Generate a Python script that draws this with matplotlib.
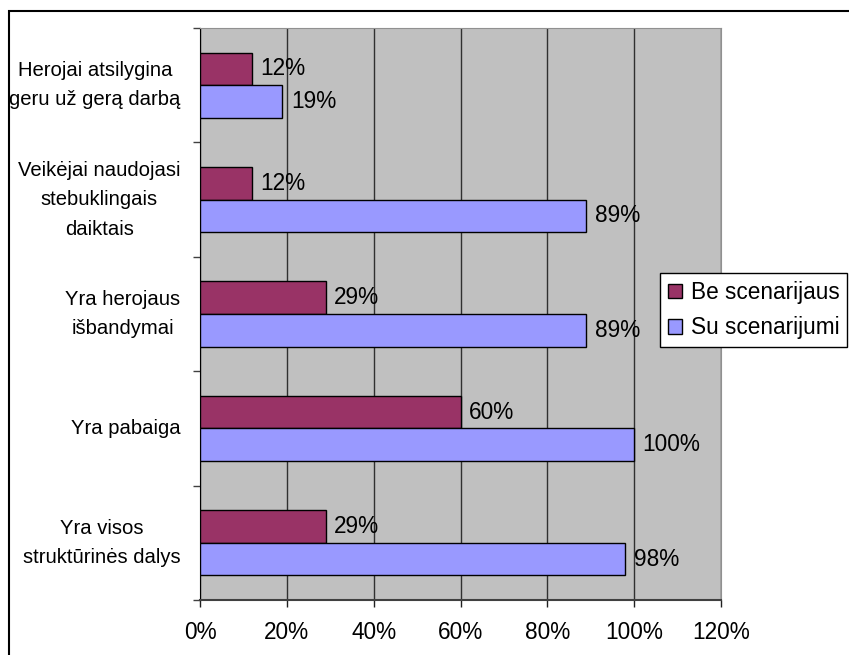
import numpy as np
import matplotlib.pyplot as plt
from matplotlib.patches import Rectangle

plt.rcParams['font.family'] = ['Liberation Sans', 'DejaVu Sans']

categories = [
    'Herojai atsilygina\ngeru už gerą darbą',
    'Veikėjai naudojasi\nstebuklingais\ndaiktais',
    'Yra herojaus\nišbandymai',
    'Yra pabaiga',
    'Yra visos\nstruktūrinės dalys',
]
be_scenarijaus = [12, 12, 29, 60, 29]
su_scenarijumi = [19, 89, 89, 100, 98]
series_names = ['Be scenarijaus', 'Su scenarijumi']
x_ticks = [0, 20, 40, 60, 80, 100, 120]

FS_CAT = 14.6
FS_NUM = 16.3
W, H = 849, 655
fig = plt.figure(figsize=(W / 100, H / 100), dpi=100)
ax = fig.add_axes([200 / W, 1 - 600 / H, (721 - 200) / W, (600 - 28) / H])
ax.set_facecolor('#C0C0C0')

pos = np.arange(len(categories))
h = 0.285
b1 = ax.barh(pos - h / 2, be_scenarijaus, height=h, color='#993366',
             edgecolor='black', linewidth=1, label=series_names[0], zorder=3)
b2 = ax.barh(pos + h / 2, su_scenarijumi, height=h, color='#9999FF',
             edgecolor='black', linewidth=1, label=series_names[1], zorder=3)

for bars, vals in ((b1, be_scenarijaus), (b2, su_scenarijumi)):
    for bar, v in zip(bars, vals):
        ax.annotate(f'{v}%', (v, bar.get_y() + bar.get_height() / 2),
                    xytext=(6, 0), textcoords='offset points',
                    va='center', ha='left', fontsize=FS_NUM, zorder=4)

ax.set_xlim(0, 120)
ax.set_ylim(len(categories) - 0.5, -0.5)
ax.set_xticks(x_ticks)
ax.set_xticklabels([f'{t}%' for t in x_ticks])
ax.xaxis.grid(True, color='#303030', linewidth=1)
ax.set_axisbelow(True)

ax.set_yticks(pos)
ax.set_yticklabels(categories, multialignment='center', linespacing=1.7,
                   va='center')
ax.set_yticks(np.arange(-0.5, len(categories)), minor=True)
ax.tick_params(axis='y', which='major', length=0, pad=14, labelsize=FS_CAT)
ax.tick_params(axis='y', which='minor', length=5, width=1, color='#404040')
ax.tick_params(axis='x', length=5, width=1, pad=10, labelsize=FS_NUM, color='#202020')

ax.spines['left'].set_color('black')
ax.spines['bottom'].set_color('#404040')
ax.spines['bottom'].set_linewidth(1.5)
ax.spines['top'].set_color('#909090')
ax.spines['right'].set_color('#909090')

fig.legend(handles=[b1, b2], loc='upper left',
           bbox_to_anchor=(660 / W, 1 - 273 / H), borderaxespad=0,
           fontsize=FS_NUM, frameon=True, fancybox=False, edgecolor='black',
           framealpha=1, handlelength=0.6, handleheight=0.6,
           handletextpad=0.4, borderpad=0.35, labelspacing=0.55)

# chart border
fig.add_artist(Rectangle((9 / W, -0.1), 1.2, 1 - 11 / H + 0.1,
                         transform=fig.transFigure, fill=False,
                         edgecolor='black', linewidth=1.5))

fig.savefig('out.png', dpi=100)
